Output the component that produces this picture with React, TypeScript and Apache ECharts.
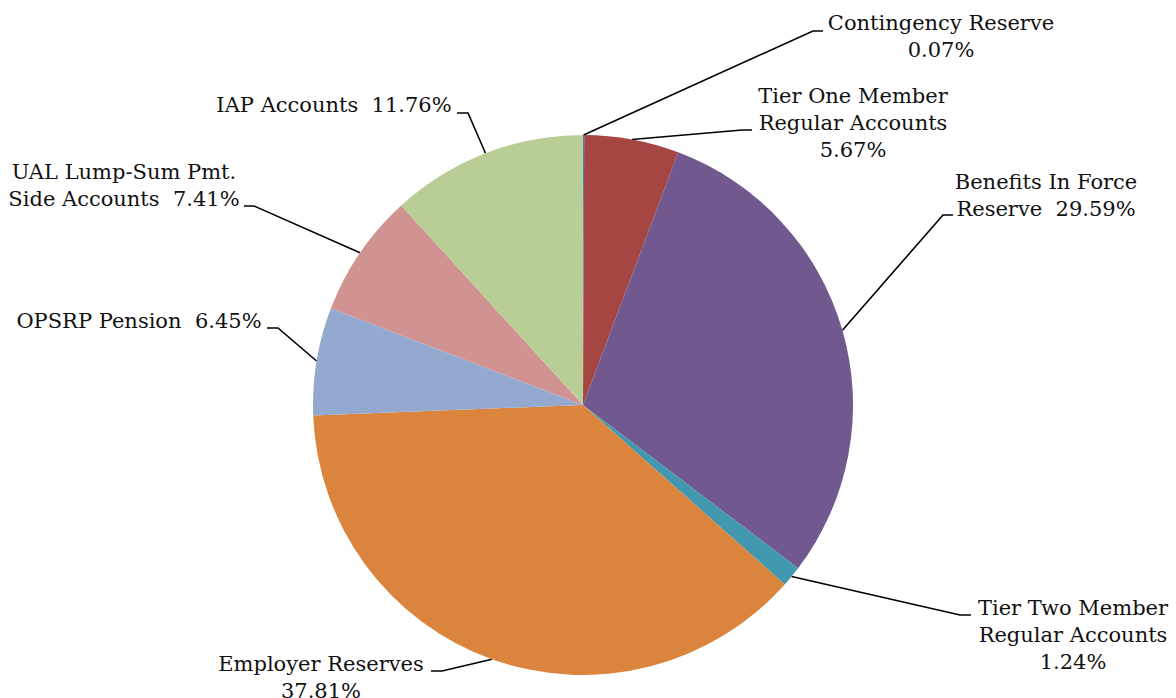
import React, { useEffect, useRef } from "react";
import * as echarts from "echarts";

const categories = [
  "Contingency Reserve",
  "Tier One Member\nRegular Accounts",
  "Benefits In Force\nReserve",
  "Tier Two Member\nRegular Accounts",
  "Employer Reserves",
  "OPSRP Pension",
  "UAL Lump-Sum Pmt.\nSide Accounts",
  "IAP Accounts",
];
const values = [0.07, 5.67, 29.59, 1.24, 37.81, 6.45, 7.41, 11.76];
const separators = ["\n", "\n", "  ", "\n", "\n", "  ", "  ", "  "];
const colors = ["#4A7EBB", "#A64643", "#71588F", "#4198AF", "#DB843D", "#93A9CF", "#D19392", "#B9CD96"];

// label layout (centre of label, leader elbow, leader end)
const labelCenters = [[941, 36], [853, 123], [1046, 195], [1073, 635], [321, 677], [139, 321], [124, 185], [334, 105]];
const elbows = [[813, 31], [742, 130], [943, 215], [960, 615], [442, 671], [278, 328], [254, 206], [468, 113]];
const ends = [[823, 31], [752, 130], [953, 215], [971, 615], [431, 671], [267, 328], [244, 206], [457, 113]];

const CX = 583;
const CY = 405;
const R = 270;

export default function App() {
  const ref = useRef<HTMLDivElement>(null);
  useEffect(() => {
    document.body.style.margin = "0";
    const chart = echarts.init(ref.current!, null, { renderer: "svg" });
    const total = values.reduce((a, b) => a + b, 0);
    const starts: number[] = [];
    let acc = 0;
    values.forEach((v) => {
      starts.push(acc);
      acc += v;
    });
    chart.setOption({
      animation: false,
      backgroundColor: "#ffffff",
      series: [
        {
          type: "pie",
          center: [CX, CY],
          radius: R,
          startAngle: 90,
          clockwise: true,
          avoidLabelOverlap: false,
          data: categories.map((c, i) => ({
            name: c,
            value: values[i],
            itemStyle: { color: colors[i] },
          })),
          label: {
            show: true,
            formatter: (p: any) => `${p.name}${separators[p.dataIndex]}${values[p.dataIndex].toFixed(2)}%`,
            fontFamily: "DejaVu Serif",
            fontSize: 21,
            lineHeight: 27,
            color: "#111111",
            align: "center",
          },
          labelLine: {
            show: true,
            lineStyle: { color: "#000000", width: 1.6 },
          },
          labelLayout: (p: any) => {
            const i = p.dataIndex;
            const mid = ((starts[i] + values[i] / 2) / total) * Math.PI * 2;
            const sx = CX + R * Math.sin(mid);
            const sy = CY - R * Math.cos(mid);
            return {
              x: labelCenters[i][0],
              y: labelCenters[i][1],
              align: "center",
              verticalAlign: "middle",
              labelLinePoints: [[sx, sy], elbows[i], ends[i]],
            };
          },
          emphasis: { disabled: true },
        },
      ],
    });
    return () => chart.dispose();
  }, []);
  return <div ref={ref} style={{ width: 1176, height: 698 }} />;
}
